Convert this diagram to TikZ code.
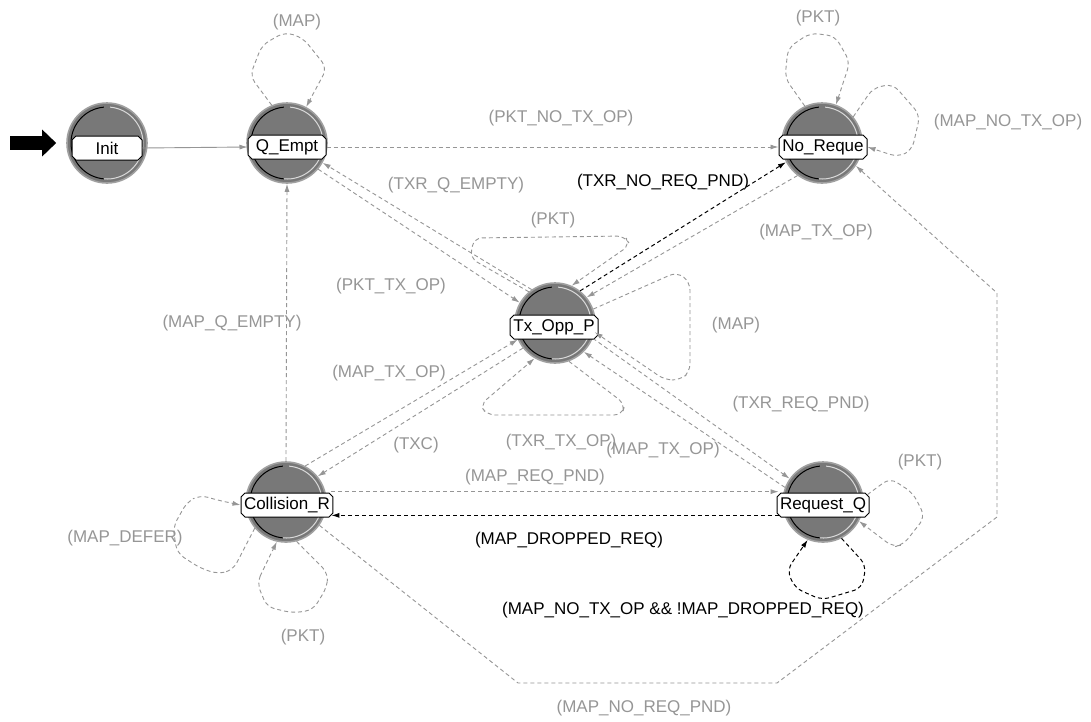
\documentclass[tikz,border=0pt]{standalone}
\usepackage{fontspec}
\setmainfont{Liberation Sans}
\usetikzlibrary{arrows.meta, positioning, shapes.misc}
\definecolor{lgray}{RGB}{150,150,150}
\definecolor{stategray}{RGB}{120,120,120}
\definecolor{ringgray}{RGB}{160,160,160}

\begin{document}
\begin{tikzpicture}[
    x=1pt, y=-1pt,
    font=\fontsize{17}{20}\selectfont,
    % Styles
    state/.style={
      circle, draw=ringgray, line width=1.6pt, fill=stategray,
      minimum size=80pt, inner sep=0pt,
      path picture={
        \draw[black, line width=1pt] (path picture bounding box.center) ++(95:36pt) arc[start angle=95, end angle=265, radius=36pt];
        \draw[white!70!gray, line width=1pt] (path picture bounding box.center) ++(-95:36pt) arc[start angle=-95, end angle=85, radius=36pt];
      }
    },
    statename/.style={
      chamfered rectangle, chamfered rectangle xsep=2pt, chamfered rectangle ysep=2pt,
      draw=black, line width=1pt, fill=white, inner sep=1pt,
      minimum height=24pt, minimum width=88pt, text=black
    },
    garrow/.style={
      draw=lgray, line width=0.9pt, dash pattern=on 4pt off 3pt,
      -{Latex[length=8pt, width=5pt]}
    },
    barrow/.style={
      draw=black, line width=1pt, dash pattern=on 4pt off 3pt,
      -{Latex[length=8pt, width=5pt]}
    },
    gsolid/.style={
      draw=lgray, line width=0.9pt, -{Latex[length=8pt, width=5pt]}
    },
    initarrow/.style={
      draw=black, line width=14pt, -{Triangle[length=14pt, width=26pt]}
    },
    glabel/.style={text=lgray, inner sep=0pt},
    blabel/.style={text=black, inner sep=0pt}
  ]

  \useasboundingbox (0,0) rectangle (1091,721);
  \fill[white] (0,0) rectangle (1091,721);

  % --- 1. STATES ---
  \node[state] (init) at (107,143) {};
  \node[statename, minimum width=70pt] (initL) at (107,148) {Init};

  \node[state] (qempty) at (287,143) {};
  \node[statename, minimum width=78pt] (qemptyL) at (287,147) {Q\_Empt};

  \node[state] (noreq) at (822,143) {};
  \node[statename] (noreqL) at (823,147) {No\_Reque};

  \node[state] (txopp) at (555,323) {};
  \node[statename] (txoppL) at (554,327) {Tx\_Opp\_P};

  \node[state] (collision) at (286,502) {};
  \node[statename] (collisionL) at (287,505) {Collision\_R};

  \node[state] (request) at (823,502) {};
  \node[statename] (requestL) at (823,505) {Request\_Q};

  % entry marker
  \coordinate (entry) at (10,143);
  \draw[initarrow] (entry) -- ([xshift=-10pt]init.west);

  % --- 2. TRANSITIONS ---

  % Init -> Q_Empt
  \draw[gsolid] (initL.east) -- (qemptyL.west);

  % Q_Empt -> No_Reque
  \draw[garrow] (qemptyL.east) -- (noreqL.west);

  % Collision -> Q_Empt
  \draw[garrow] (collision.north) -- (qempty.south);

  % Q_Empt <-> Tx_Opp_P
  \draw[garrow] (txopp.125) -- (qempty.-29);
  \draw[garrow] (qempty.-40) -- (txopp.150);

  % Tx_Opp_P <-> No_Reque
  \draw[barrow] (txopp.52) -- (noreq.208);
  \draw[garrow] (noreq.233) -- (txopp.39);

  % Tx_Opp_P <-> Collision
  \draw[garrow] (collision.62) -- (txopp.204);
  \draw[garrow] (txopp.218) -- (collision.39);

  % Tx_Opp_P <-> Request
  \draw[garrow] (txopp.-22) -- (request.145);
  \draw[garrow] (request.159) -- (txopp.-45);

  % Collision <-> Request
  \draw[garrow] ([yshift=3pt]collisionL.north east) -- ([yshift=3pt]requestL.north west);
  \draw[barrow] (requestL.south west) -- (collisionL.south east);

  % Collision -> No_Reque, the long way round
  \draw[garrow] (collision.-35) -- (518,683) -- (777,683) -- (997,517) -- (997,293) -- (noreq.-34);

  % self loops
  \draw[garrow, rounded corners=8pt] (qempty.112) -- (250,76) -- (262,45) -- (285,32) -- (303,38) -- (327,68) -- (qempty.62);
  \draw[garrow, rounded corners=8pt] (noreq.115) -- (785,78) -- (788,48) -- (810,33) -- (835,36) -- (850,62) -- (noreq.70);
  \draw[garrow, rounded corners=8pt] (noreq.40) -- (873,88) -- (893,84) -- (920,115) -- (912,150) -- (898,157) -- (noreqL.east);
  \draw[garrow, rounded corners=8pt] (txopp.130) -- (470,258) -- (474,238) -- (625,236) -- (630,245) -- (txopp.66);
  \draw[garrow, rounded corners=8pt] (txopp.20) -- (677,272) -- (690,282) -- (690,372) -- (680,380) -- (665,380) -- (txopp.-13);
  \draw[garrow, rounded corners=8pt] (txopp.-70) -- (625,404) -- (622,415) -- (487,415) -- (480,405) -- (txopp.-120);
  \draw[garrow, rounded corners=8pt] (collision.220) -- (233,570) -- (218,574) -- (200,568) -- (177,553) -- (173,527) -- (187,502) -- (200,495) -- (217,500) -- (collisionL.west);
  \draw[garrow, rounded corners=8pt] (collision.-75) -- (328,573) -- (327,587) -- (313,610) -- (293,613) -- (267,607) -- (257,583) -- (263,570) -- (collision.-103);
  \draw[garrow, rounded corners=8pt] (requestL.north east) -- (890,478) -- (913,493) -- (925,517) -- (903,545) -- (893,547) -- (request.-28);
  \draw[barrow, rounded corners=8pt] (request.-63) -- (866,565) -- (862,588) -- (822,600) -- (795,588) -- (787,570) -- (request.-112);

  % --- 3. LABELS ---
  \node[glabel] (qMapL) at (297,22) {(MAP)};
  \node[glabel] (pktNoTxL) at (561,118) {(PKT\_NO\_TX\_OP)};
  \node[glabel] (txrQL) at (456,185) {(TXR\_Q\_EMPTY)};
  \node[blabel] (txrNoReqL) at (663,182) {(TXR\_NO\_REQ\_PND)};
  \node[glabel] (txPktL) at (553,220) {(PKT)};
  \node[glabel] (noMapTxL) at (816,232) {(MAP\_TX\_OP)};
  \node[glabel] (pktTxL) at (391,286) {(PKT\_TX\_OP)};
  \node[glabel] (mapQL) at (232,323) {(MAP\_Q\_EMPTY)};
  \node[glabel] (txMapL) at (736,325) {(MAP)};
  \node[glabel] (colMapTxL) at (389,373) {(MAP\_TX\_OP)};
  \node[glabel] (txrReqL) at (801,404) {(TXR\_REQ\_PND)};
  \node[glabel] (txcL) at (416,445) {(TXC)};
  \node[glabel] (txrTxL) at (561,442) {(TXR\_TX\_OP)};
  \node[glabel] (reqMapTxL) at (663,450) {(MAP\_TX\_OP)};
  \node[glabel] (mapReqL) at (535,477) {(MAP\_REQ\_PND)};
  \node[blabel] (droppedL) at (569,540) {(MAP\_DROPPED\_REQ)};
  \node[glabel] (deferL) at (125,538) {(MAP\_DEFER)};
  \node[glabel] (colPktL) at (303,637) {(PKT)};
  \node[glabel] (reqPktL) at (920,462) {(PKT)};
  \node[blabel] (noTxOpL) at (683,610) {(MAP\_NO\_TX\_OP \&\& !MAP\_DROPPED\_REQ)};
  \node[glabel] (noReqPndL) at (644,708) {(MAP\_NO\_REQ\_PND)};
  \node[glabel] (noPktL) at (818,18) {(PKT)};
  \node[glabel] (noMapNoTxL) at (1008,122) {(MAP\_NO\_TX\_OP)};

\end{tikzpicture}
\end{document}
